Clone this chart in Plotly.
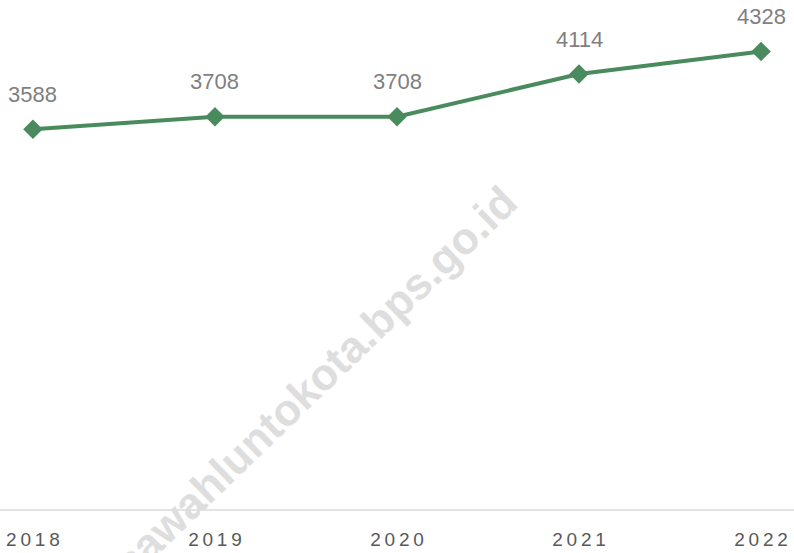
import plotly.graph_objects as go

years = ["2018", "2019", "2020", "2021", "2022"]
values = [3588, 3708, 3708, 4114, 4328]
tick_labels = ["\u2009".join(y) for y in years]

line_color = "#4a8b5e"

fig = go.Figure()
fig.add_trace(go.Scatter(
    x=list(range(len(years))), y=values, mode="lines+markers",
    line=dict(color=line_color, width=4),
    marker=dict(symbol="diamond", size=15, color=line_color),
    hoverinfo="skip", showlegend=False, cliponaxis=False,
))

for i, v in enumerate(values):
    fig.add_annotation(x=i, y=v, text=str(v), showarrow=False, yshift=35,
                       font=dict(family="Liberation Sans", size=22, color="#7f7f7f"))

fig.add_annotation(xref="paper", yref="paper", x=0.397, y=0.251,
                   text="<b>sawahluntokota.bps.go.id</b>", showarrow=False, textangle=-44,
                   font=dict(family="Liberation Sans", size=44, color="#dedede"),
                   xanchor="center", yanchor="middle")

fig.update_layout(
    width=794, height=553,
    margin=dict(l=0, r=0, t=0, b=43, autoexpand=False),
    paper_bgcolor="white", plot_bgcolor="white",
    xaxis=dict(range=[-0.181, 4.181], tickmode="array", tickvals=list(range(len(years))),
               ticktext=tick_labels, showgrid=False, zeroline=False, automargin=False,
               showline=False, ticks="outside", ticklen=12, tickcolor="rgba(0,0,0,0)",
               tickfont=dict(family="Liberation Sans", size=19, color="#595959")),
    yaxis=dict(range=[-38, 4819], visible=False, showgrid=False, zeroline=False, automargin=False),
    shapes=[dict(type="line", xref="paper", yref="paper", x0=0, x1=1, y0=0, y1=0,
                 line=dict(color="#d9d9d9", width=1.5))],
)

fig.write_html("out.html", config={"displayModeBar": False},
               post_script="document.body.style.margin='0';")
